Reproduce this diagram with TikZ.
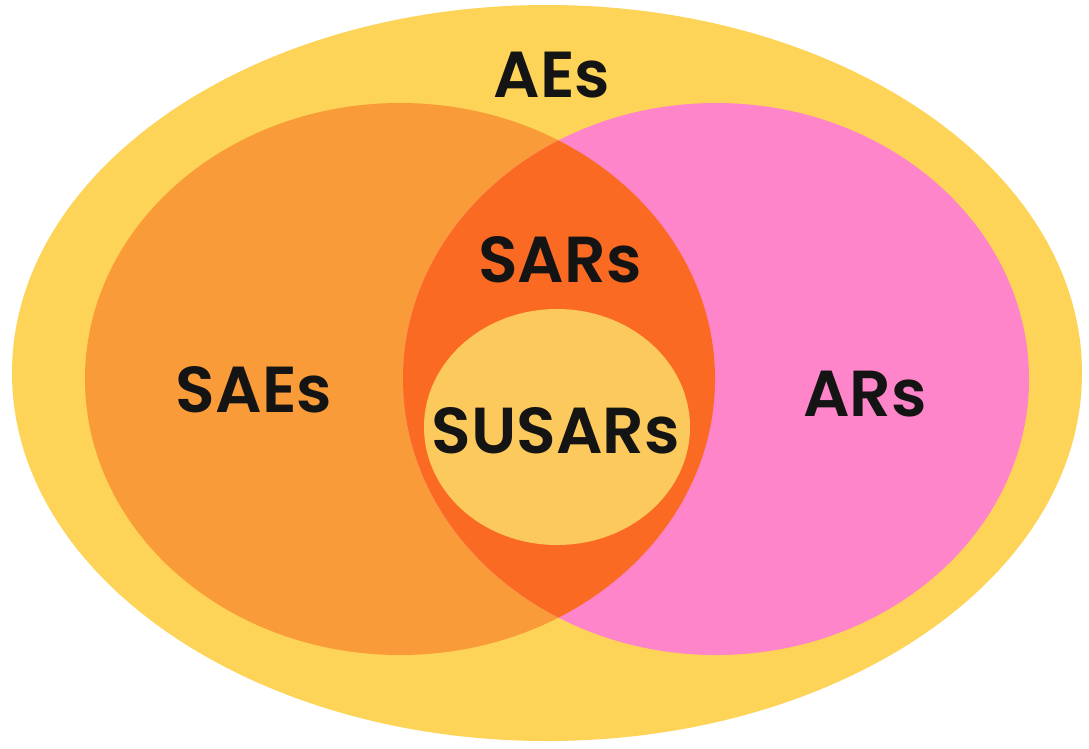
\documentclass[tikz,border=0pt]{standalone}
\usepackage{fontspec}
\setmainfont{Poppins}[BoldFont={Poppins SemiBold}]
\definecolor{aeyellow}{HTML}{FDD457}
\definecolor{saeorange}{HTML}{F99B38}
\definecolor{arpink}{HTML}{FE85C9}
\definecolor{sarred}{HTML}{FB6A22}
\definecolor{susaryellow}{HTML}{FCC95C}
\definecolor{labelink}{HTML}{141414}
\begin{document}
\begin{tikzpicture}[x=1pt,y=-1pt,
  setlabel/.style={anchor=base,inner sep=0pt,text=labelink,font=\fontsize{65}{70}\selectfont\bfseries}]
\useasboundingbox (0,0) rectangle (1089,748);
\fill[white] (0,0) rectangle (1089,748);
\fill[aeyellow] (547,373) ellipse [x radius=535, y radius=368];
\fill[saeorange] (400,379) ellipse [x radius=315, y radius=276];
\fill[arpink] (716,379) ellipse [x radius=313, y radius=276];
\begin{scope}
  \clip (400,379) ellipse [x radius=315, y radius=276];
  \fill[sarred] (716,379) ellipse [x radius=313, y radius=276];
\end{scope}
\fill[susaryellow] (557,427) ellipse [x radius=133, y radius=118];
\node[setlabel] (ae) at (552,97) {AEs};
\node[setlabel] (sar) at (560,282) {SARs};
\node[setlabel] (susar) at (556,453) {SUSARs};
\node[setlabel] (sae) at (254,412) {SAEs};
\node[setlabel] (ar) at (865,416) {ARs};
\end{tikzpicture}
\end{document}
